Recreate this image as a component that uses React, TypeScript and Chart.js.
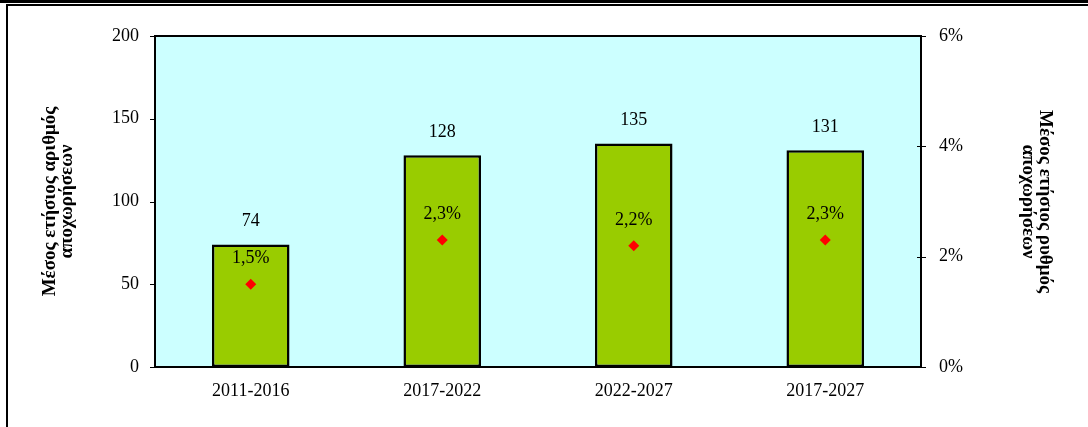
import React, { useEffect, useRef } from "react";
import { Chart, registerables } from "chart.js";

Chart.register(...registerables);

const categories = ["2011-2016", "2017-2022", "2022-2027", "2017-2027"];
const avgDepartures = [74, 128, 135, 131];
const avgRate = [0.015, 0.023, 0.022, 0.023];
const leftTitle = ["Μέσος ετήσιος αριθμός", "αποχωρήσεων"];
const rightTitle = ["Μέσος ετήσιος ρυθμός", "αποχωρήσεων"];

const FONT = "'Liberation Serif', 'Times New Roman', serif";

const fmtRate = (v: number) => (v * 100).toFixed(1).replace(".", ",") + "%";

const framePlugin = {
  id: "framePlugin",
  beforeDraw(chart: any) {
    const { ctx, chartArea: a } = chart;
    ctx.save();
    ctx.fillStyle = "#CCFFFF";
    ctx.fillRect(a.left, a.top, a.right - a.left, a.bottom - a.top);
    ctx.restore();
  },
  afterDatasetsDraw(chart: any) {
    const { ctx, chartArea: a } = chart;
    ctx.save();
    ctx.strokeStyle = "#000";
    ctx.lineWidth = 2;
    ctx.strokeRect(a.left, a.top, a.right - a.left, a.bottom - a.top);
    // tick marks
    ctx.lineWidth = 1;
    const y = chart.scales.y;
    y.ticks.forEach((_t: any, i: number) => {
      const py = Math.round(y.getPixelForTick(i)) + 0.5;
      ctx.beginPath();
      ctx.moveTo(a.left - 5, py);
      ctx.lineTo(a.left, py);
      ctx.stroke();
    });
    const y1 = chart.scales.y1;
    y1.ticks.forEach((_t: any, i: number) => {
      const py = Math.round(y1.getPixelForTick(i)) + 0.5;
      ctx.beginPath();
      ctx.moveTo(a.right - 4, py);
      ctx.lineTo(a.right + 5, py);
      ctx.stroke();
    });
    // data labels
    ctx.fillStyle = "#000";
    ctx.font = `18px ${FONT}`;
    ctx.textAlign = "center";
    ctx.textBaseline = "middle";
    const m0 = chart.getDatasetMeta(0);
    m0.data.forEach((el: any, i: number) => {
      ctx.fillText(String(avgDepartures[i]), el.x, el.y - 23);
    });
    const m1 = chart.getDatasetMeta(1);
    m1.data.forEach((el: any, i: number) => {
      ctx.fillText(fmtRate(avgRate[i]), el.x, el.y - 25.5);
    });
    ctx.restore();
  },
};

export default function App() {
  const ref = useRef<HTMLCanvasElement | null>(null);

  useEffect(() => {
    if (!ref.current) return;
    const chart = new Chart(ref.current, {
      type: "bar",
      data: {
        labels: categories,
        datasets: [
          {
            type: "bar",
            data: avgDepartures,
            backgroundColor: "#99CC00",
            borderColor: "#000000",
            borderWidth: 2.5,
            borderSkipped: false,
            barPercentage: 0.405,
            categoryPercentage: 1,
            yAxisID: "y",
            order: 2,
          } as any,
          {
            type: "line",
            data: avgRate,
            showLine: false,
            pointStyle: "rectRot",
            pointRadius: 5.5,
            pointBackgroundColor: "#FF0000",
            pointBorderColor: "#FF0000",
            pointBorderWidth: 0,
            yAxisID: "y1",
            order: 1,
          } as any,
        ],
      },
      options: {
        animation: false,
        responsive: true,
        maintainAspectRatio: false,
        layout: { padding: { top: 36, left: 0, right: 0, bottom: 0 } },
        plugins: {
          legend: { display: false },
          tooltip: { enabled: false },
        },
        scales: {
          x: {
            grid: { display: false, drawTicks: false },
            border: { display: false },
            ticks: {
              color: "#000",
              font: { family: FONT, size: 18 },
              padding: 13,
              maxRotation: 0,
            },
            afterFit: (s: any) => {
              s.height = 60;
            },
          },
          y: {
            position: "left",
            min: 0,
            max: 200,
            grid: { display: false, drawTicks: false },
            border: { display: false },
            ticks: {
              stepSize: 50,
              color: "#000",
              font: { family: FONT, size: 18 },
              padding: 16,
            },
            title: {
              display: true,
              text: leftTitle,
              color: "#000",
              font: { family: FONT, size: 19, weight: "bold", lineHeight: 0.92 },
              padding: { top: 41.25, bottom: 0 },
            },
            afterFit: (s: any) => {
              s.width = 155;
            },
          },
          y1: {
            position: "right",
            min: 0,
            max: 0.06,
            grid: { display: false, drawTicks: false },
            border: { display: false },
            ticks: {
              stepSize: 0.02,
              color: "#000",
              font: { family: FONT, size: 18 },
              padding: 18,
              callback: (v: any) => Math.round(Number(v) * 100) + "%",
            },
            title: {
              display: true,
              text: rightTitle,
              color: "#000",
              font: { family: FONT, size: 19, weight: "bold", lineHeight: 0.92 },
              padding: { top: 34.25, bottom: 0 },
            },
            afterFit: (s: any) => {
              s.width = 167;
            },
          },
        },
      },
      plugins: [framePlugin],
    });
    return () => chart.destroy();
  }, []);

  return (
    <div style={{ position: "absolute", left: 0, top: 0, width: 1088, height: 427, background: "#fff", overflow: "hidden" }}>
      <div style={{ position: "absolute", left: 0, top: 0, width: 1088, height: 2.5, background: "#000" }} />
      <div style={{ position: "absolute", left: 6, top: 4, width: 1082, height: 2, background: "#000" }} />
      <div style={{ position: "absolute", left: 6, top: 4, width: 2, height: 423, background: "#000" }} />
      <div style={{ position: "absolute", left: 0, top: 0, width: 1088, height: 427 }}>
        <canvas ref={ref} />
      </div>
    </div>
  );
}
